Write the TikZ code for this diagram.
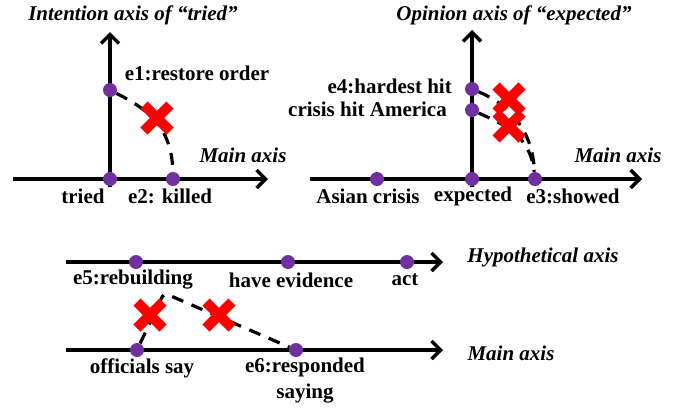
\documentclass[tikz,border=0pt]{standalone}
\usepackage{fontspec}
\setmainfont{Liberation Serif}
\usetikzlibrary{arrows.meta}
\definecolor{dotpurple}{HTML}{7030A0}
\tikzset{
  axis/.style={line width=3.5bp,-{Straight Barb[length=9bp,width=18bp,line width=3.5bp]}},
  dotn/.style={circle,fill=dotpurple,inner sep=0pt,minimum size=14bp},
  lbl/.style={font=\fontsize{21bp}{24bp}\selectfont\bfseries,inner sep=0pt},
  ttl/.style={font=\fontsize{21bp}{24bp}\selectfont\bfseries\itshape,inner sep=0pt},
  dashln/.style={line width=3.2bp,dash pattern=on 12bp off 9bp},
  redx/.pic={\draw[red,line width=10bp] (-13,-13)--(13,13) (-13,13)--(13,-13);}
}
\begin{document}
\begin{tikzpicture}[x=1bp,y=-1bp]
\useasboundingbox (0,0) rectangle (680,407);
% ---------- panel 1
\coordinate (h1s) at (13,179); \coordinate (h1e) at (268,179);
\coordinate (v1s) at (110,187); \coordinate (v1e) at (110,32);
\draw[axis] (h1s) -- (h1e);
\draw[axis] (v1s) -- (v1e);
\node[dotn] (e1) at (110,90) {};
\node[dotn] (tr) at (110,179) {};
\node[dotn] (e2) at (173,179) {};
\draw[dashln] (e1) .. controls (145,108) and (172,125) .. (e2);
\pic at (157,118) {redx};
\node[lbl] (le1) at (197,73) {e1:restore order};
\node[lbl] (ltr) at (83,196) {tried};
\node[lbl] (le2) at (170,196) {e2: killed};
\node[ttl] (lm1) at (243,155) {Main axis};
\node[ttl] (t1) at (133,15) {Intention axis of “tried”};
% ---------- panel 2
\coordinate (h2s) at (310,179); \coordinate (h2e) at (642,179);
\coordinate (v2s) at (472,187); \coordinate (v2e) at (472,30);
\draw[axis] (h2s) -- (h2e);
\draw[axis] (v2s) -- (v2e);
\node[dotn] (e4) at (472,89) {};
\node[dotn] (ch) at (472,110) {};
\node[dotn] (ex) at (472,179) {};
\node[dotn] (ac) at (377,179) {};
\node[dotn] (e3) at (535,179) {};
\draw[dashln] (e4) .. controls (505,103) and (532,125) .. (e3);
\draw[dashln] (ch) .. controls (505,125) and (530,135) .. (e3);
\pic at (509,99) {redx};
\pic at (509,126) {redx};
\node[lbl,anchor=east] (le4) at (452,86) {e4:hardest hit};
\node[lbl,anchor=east] (lch) at (447,109) {crisis hit America};
\node[lbl] (lac) at (368,196) {Asian crisis};
\node[lbl] (lex) at (473,196) {expected};
\node[lbl] (le3) at (573,196) {e3:showed};
\node[ttl] (lm2) at (618,155) {Main axis};
\node[ttl] (t2) at (514,15) {Opinion axis of “expected”};
% ---------- panel 3
\coordinate (h3s) at (66,262); \coordinate (h3e) at (443,262);
\coordinate (h4s) at (66,350); \coordinate (h4e) at (443,350);
\draw[axis] (h3s) -- (h3e);
\draw[axis] (h4s) -- (h4e);
\node[dotn] (e5) at (136,262) {};
\node[dotn] (he) at (288,262) {};
\node[dotn] (act) at (407,262) {};
\node[dotn] (os) at (137,350) {};
\node[dotn] (e6) at (296,350) {};
\coordinate (bend) at (164,293);
\draw[dashln,rounded corners=4bp] (os) -- (bend) -- (e6);
\pic at (150,315) {redx};
\pic at (219,315) {redx};
\node[lbl] (le5) at (133,280) {e5:rebuilding};
\node[lbl] (lhe) at (291,280) {have evidence};
\node[lbl] (lact) at (405,280) {act};
\node[ttl] (lhy) at (543,257) {Hypothetical axis};
\node[lbl] (los) at (142,368) {officials say};
\node[lbl,align=center,font=\fontsize{21bp}{26bp}\selectfont\bfseries] (le6) at (305,381) {e6:responded\\saying};
\node[ttl] (lm3) at (511,353) {Main axis};
\end{tikzpicture}
\end{document}
